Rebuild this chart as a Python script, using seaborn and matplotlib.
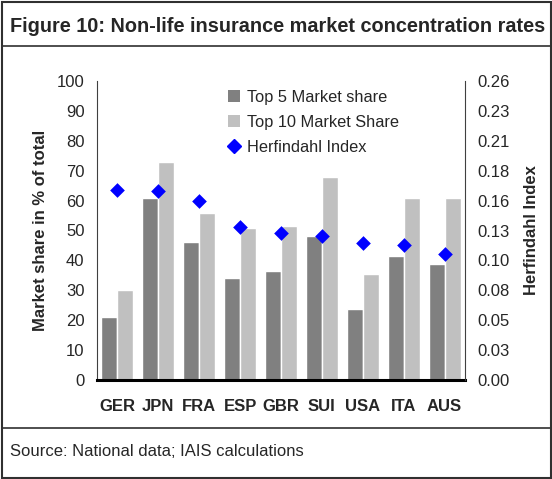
import matplotlib
matplotlib.use("Agg")
import matplotlib.pyplot as plt
import seaborn as sns
import pandas as pd
import numpy as np
from matplotlib.lines import Line2D
from matplotlib.patches import Patch

countries = ["GER", "JPN", "FRA", "ESP", "GBR", "SUI", "USA", "ITA", "AUS"]
top5 = [21, 61, 46, 34, 36.5, 48, 23.7, 41.5, 38.8]
top10 = [30, 73, 56, 51, 51.5, 68, 35.4, 61, 60.8]
herfindahl = [0.165, 0.164, 0.156, 0.133, 0.128, 0.125, 0.119, 0.117, 0.110]
left_ticks = list(range(0, 101, 10))
right_ticks = [0, 0.026, 0.052, 0.078, 0.104, 0.13, 0.156, 0.182, 0.208, 0.234, 0.26]
right_labels = ["0.00", "0.03", "0.05", "0.08", "0.10", "0.13", "0.16", "0.18", "0.21", "0.23", "0.26"]

sns.set_theme(style="white")
plt.rcParams['font.family'] = ['Liberation Sans', 'DejaVu Sans']

W, H = 552, 479
fig = plt.figure(figsize=(W/100, H/100), dpi=100)

df = pd.DataFrame({
    "country": countries * 2,
    "value": top5 + top10,
    "series": ["Top 5 Market share"] * len(countries) + ["Top 10 Market Share"] * len(countries),
})

ax = fig.add_axes([97/W, 1 - 380/H, (465-97)/W, (380-81)/H])
sns.barplot(data=df, x="country", y="value", hue="series", ax=ax,
            palette=["#808080", "#C0C0C0"], width=0.78, saturation=1, legend=False)
ax.set_ylim(0, 100)
ax.set_xlim(-0.5, 8.5)
ax.set_yticks(left_ticks)
ax.set_xlabel("")
ax.set_ylabel("Market share in % of total", fontsize=12, fontweight="bold", labelpad=6)
ax.tick_params(axis="y", length=0, pad=9, labelsize=12)
ax.tick_params(axis="x", length=0, pad=14, labelsize=12)
for t in ax.get_xticklabels():
    t.set_fontweight("bold")
for s in ["top", "right"]:
    ax.spines[s].set_visible(False)
ax.spines["left"].set_color("#404040")
ax.spines["left"].set_linewidth(0.8)
ax.spines["bottom"].set_color("black")
ax.spines["bottom"].set_linewidth(2.2)

ax2 = ax.twinx()
hdf = pd.DataFrame({"x": np.arange(len(countries)), "h": herfindahl})
sns.scatterplot(data=hdf, x="x", y="h", ax=ax2, marker="D", s=56, color="#0000FF",
                linewidth=0, legend=False)
ax2.set_ylim(0, 0.26)
ax2.set_xlim(-0.5, 8.5)
ax2.set_yticks(right_ticks)
ax2.set_yticklabels(right_labels)
ax2.tick_params(axis="y", length=0, pad=9, labelsize=12)
ax2.set_ylabel("Herfindahl Index", fontsize=12, fontweight="bold", labelpad=10)
for s in ["top", "left", "bottom"]:
    ax2.spines[s].set_visible(False)
ax2.spines["right"].set_color("#404040")
ax2.spines["right"].set_linewidth(0.8)

handles = [
    Patch(facecolor="#808080", edgecolor="none"),
    Patch(facecolor="#C0C0C0", edgecolor="none"),
    Line2D([], [], marker="D", color="#0000FF", linestyle="none", markersize=7.5),
]
labels = ["Top 5 Market share", "Top 10 Market Share", "Herfindahl Index"]
ax2.legend(handles, labels, loc="upper left", bbox_to_anchor=(228/W, 1 - 90/H),
           bbox_transform=fig.transFigure, frameon=False, fontsize=11.8,
           handlelength=0.75, handleheight=0.75, handletextpad=0.4, labelspacing=0.62,
           borderpad=0, borderaxespad=0)

# Frame, title, and source
fc = "#303030"
fig.add_artist(plt.Rectangle((1.5/W, 1.5/H), (W-3)/W, (H-3)/H, transform=fig.transFigure,
                             fill=False, edgecolor=fc, linewidth=1.5))
fig.add_artist(Line2D([1.5/W, 1 - 1.5/W], [1 - 46/H, 1 - 46/H], transform=fig.transFigure,
                      color=fc, linewidth=1.2))
fig.add_artist(Line2D([1.5/W, 1 - 1.5/W], [1 - 428/H, 1 - 428/H], transform=fig.transFigure,
                      color=fc, linewidth=1.2))
fig.text(10/W, 1 - 27/H, "Figure 10: Non-life insurance market concentration rates",
         fontsize=14.3, fontweight="bold", va="center", ha="left")
fig.text(10/W, 1 - 452/H, "Source: National data; IAIS calculations",
         fontsize=12, va="center", ha="left")

fig.savefig("out.png", dpi=100)
